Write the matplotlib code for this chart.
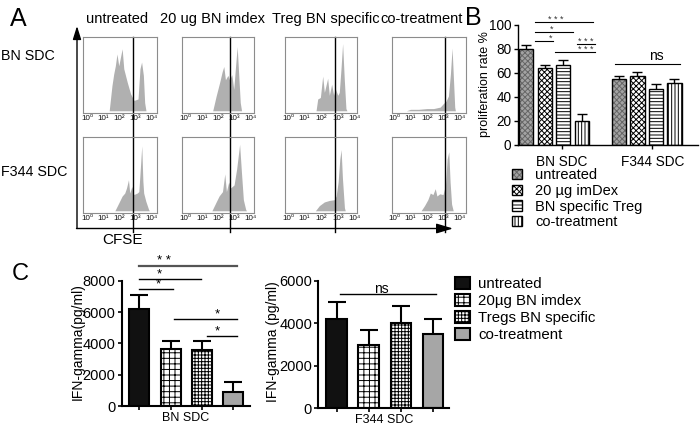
import matplotlib
matplotlib.use('Agg')
import matplotlib.pyplot as plt
from matplotlib.patches import Patch
from matplotlib.legend_handler import HandlerTuple

plt.rcParams['font.family'] = ['Liberation Sans', 'DejaVu Sans']
plt.rcParams['hatch.linewidth'] = 0.7

# ---- panel A: CFSE histograms (log10 CFSE, relative count) ----
row_names = ['BN SDC', 'F344 SDC']
col_names = ['untreated', '20 ug BN imdex', 'Treg BN specific', 'co-treatment']
decade_labels = ['10⁰', '10¹', '10²', '10³', '10⁴']
gate_log = [2.85, 2.76, 2.83, 3.09]

bn_untreated_log = [1.37, 1.54, 1.65, 1.75, 1.85, 1.96, 2.17, 2.27, 2.48, 2.69, 2.9, 3.15, 3.27, 3.37, 3.48, 3.56, 3.64]
bn_untreated_cnt = [0, 0.34, 0.5, 0.61, 0.77, 0.61, 0.84, 0.57, 0.39, 0.23, 0.14, 0.16, 0.57, 0.66, 0.48, 0.11, 0]
bn_imdex_log = [1.67, 1.88, 2.09, 2.25, 2.35, 2.45, 2.6, 2.7, 2.84, 2.96, 3.07, 3.17, 3.27, 3.36, 3.44]
bn_imdex_cnt = [0, 0.2, 0.38, 0.53, 0.6, 0.42, 0.48, 0.42, 0.49, 0.29, 0.6, 0.87, 0.47, 0.11, 0]
bn_treg_log = [1.69, 1.79, 1.95, 2.09, 2.19, 2.39, 2.49, 2.63, 2.75, 2.85, 3.0, 3.09, 3.19, 3.29, 3.39, 3.49, 3.55]
bn_treg_cnt = [0, 0.16, 0.18, 0.47, 0.25, 0.44, 0.21, 0.36, 0.21, 0.30, 0.21, 0.25, 0.56, 0.91, 0.43, 0.03, 0]
bn_cotreat_log = [0.75, 1.0, 1.5, 2.0, 2.4, 2.8, 3.0, 3.15, 3.3, 3.42, 3.52, 3.6, 3.68, 3.72]
bn_cotreat_cnt = [0, 0.02, 0.02, 0.03, 0.03, 0.05, 0.1, 0.13, 0.2, 0.5, 0.85, 0.45, 0.05, 0]

f344_untreated_log = [1.72, 1.97, 2.17, 2.33, 2.44, 2.56, 2.64, 2.77, 2.89, 3.1, 3.2, 3.3, 3.38, 3.45, 3.5, 3.63, 3.8, 3.85]
f344_untreated_cnt = [0, 0.11, 0.2, 0.24, 0.31, 0.42, 0.24, 0.33, 0.22, 0.24, 0.26, 0.6, 0.88, 0.4, 0.24, 0.13, 0.02, 0]
f344_imdex_log = [1.62, 1.86, 2.06, 2.27, 2.41, 2.51, 2.65, 2.77, 2.98, 3.14, 3.32, 3.43, 3.55, 3.69, 3.74]
f344_imdex_cnt = [0, 0.11, 0.2, 0.26, 0.5, 0.26, 0.39, 0.31, 0.35, 0.57, 0.9, 0.53, 0.15, 0.02, 0]
f344_treg_log = [1.65, 1.89, 2.19, 2.49, 2.79, 2.9, 3.02, 3.12, 3.2, 3.28, 3.4, 3.45]
f344_treg_cnt = [0, 0.07, 0.12, 0.14, 0.15, 0.2, 0.39, 0.7, 0.83, 0.44, 0.04, 0]
f344_cotreat_log = [1.64, 1.85, 2.05, 2.2, 2.36, 2.5, 2.6, 2.77, 2.97, 3.12, 3.22, 3.32, 3.4, 3.49, 3.59]
f344_cotreat_cnt = [0, 0.07, 0.15, 0.24, 0.22, 0.3, 0.2, 0.23, 0.22, 0.35, 0.7, 0.8, 0.39, 0.09, 0]

# ---- panel B: proliferation rate % ----
groups_b = ['BN SDC', 'F344 SDC']
labels_b = ['untreated', '20 µg imDex', 'BN specific Treg', 'co-treatment']
prolif_bn = [80, 64, 67, 20]
prolif_bn_err = [3, 2.5, 4, 6]
prolif_f344 = [55, 57.5, 47, 52]
prolif_f344_err = [2.5, 3.5, 4, 3]
# (from bar, to bar, height, label, label x)
sig_b = [(0.46, 3.6, 102.7, '* * *', 1.6),
         (0.46, 2.53, 94.4, '*', 1.36),
         (0.46, 1.45, 86.7, '*', 1.31),
         (2.71, 3.7, 83.9, '* * *', 3.2),
         (1.54, 3.7, 77.2, '* * *', 3.2),
         (4.78, 8.3, 67.5, 'ns', 7.04)]

# ---- panel C: IFN-gamma ----
labels_c = ['untreated', '20µg BN imdex', 'Tregs BN specific', 'co-treatment']
ifn_bn = [6200, 3650, 3550, 920]
ifn_bn_err = [900, 470, 570, 600]
ifn_f344 = [4200, 3000, 4000, 3500]
ifn_f344_err = [800, 700, 800, 700]
sig_c_bn = [(0, 3.11, 8940, '* *', 0.8),
            (0, 1.99, 8130, '*', 0.64),
            (0, 1.09, 7450, '*', 0.61),
            (1.11, 3.11, 5575, '*', 2.49),
            (2.15, 3.11, 4470, '*', 2.49)]
sig_c_f344 = [(0.1, 3.09, 5360, 'ns', 1.4)]

W, H = 700, 425
fig = plt.figure(figsize=(7, 4.25), dpi=100)


def px_axes(x0, y0, x1, y1, **kw):
    return fig.add_axes([x0 / W, 1 - y1 / H, (x1 - x0) / W, (y1 - y0) / H], **kw)


# overlay for frame arrows and free text
ax0 = px_axes(0, 0, W, H)
ax0.set_xlim(0, W)
ax0.set_ylim(H, 0)
ax0.axis('off')
ax0.annotate('', xy=(77, 26), xytext=(77, 228.5),
             arrowprops=dict(arrowstyle='-|>,head_length=0.8,head_width=0.25', color='k',
                             lw=1, shrinkA=0, shrinkB=0))
ax0.annotate('', xy=(453, 228.5), xytext=(76.5, 228.5),
             arrowprops=dict(arrowstyle='-|>,head_length=1.0,head_width=0.3', color='k',
                             lw=1, shrinkA=0, shrinkB=0))
ax0.text(18, 19, 'A', fontsize=18, ha='center', va='center')
ax0.text(473, 17.5, 'B', fontsize=18, ha='center', va='center')
ax0.text(20, 273.5, 'C', fontsize=17, ha='center', va='center')
for cx, name in zip([116.7, 213, 326, 421.7], col_names):
    ax0.text(cx, 18.5, name, fontsize=10.5, ha='center', va='center')
for cy, name in zip([56, 172.3], row_names):
    ax0.text(1, cy, name, fontsize=10.3, ha='left', va='center')
ax0.text(122.5, 239.5, 'CFSE', fontsize=11, ha='center', va='center')
ax0.text(485, 84, 'proliferation rate %', fontsize=9, rotation=90, ha='center', va='center')
ax0.text(78, 342, 'IFN-gamma(pg/ml)', fontsize=10, rotation=90, ha='center', va='center')
ax0.text(273.5, 342, 'IFN-gamma (pg/ml)', fontsize=10, rotation=90, ha='center', va='center')

hists = [[(bn_untreated_log, bn_untreated_cnt), (bn_imdex_log, bn_imdex_cnt),
          (bn_treg_log, bn_treg_cnt), (bn_cotreat_log, bn_cotreat_cnt)],
         [(f344_untreated_log, f344_untreated_cnt), (f344_imdex_log, f344_imdex_cnt),
          (f344_treg_log, f344_treg_cnt), (f344_cotreat_log, f344_cotreat_cnt)]]
# box left, box right, pixel of 10^0, pixels per decade
col_boxes = [(83, 157, 87, 16.2), (181.5, 253.5, 185.5, 16.3),
             (284.5, 357, 288, 16.6), (391.5, 466, 394, 16.5)]
row_boxes = [(37, 113), (137, 213)]
gate_low = [-0.32, -0.25]

for r in range(2):
    for c in range(4):
        x0, x1, l0, dec = col_boxes[c]
        y0, y1 = row_boxes[r]
        ax = px_axes(x0, y0, x1, y1)
        ax.patch.set_alpha(0)
        lx, cnt = hists[r][c]
        ax.fill_between(lx, cnt, color='#b0b0b0', lw=0)
        ax.set_xlim((x0 - l0) / dec, (x1 - l0) / dec)
        ax.set_ylim(-0.03, 1.0)
        ax.set_xticks(range(5))
        ax.set_xticklabels(decade_labels, fontsize=5.8, color='#111')
        ax.set_yticks([])
        ax.tick_params(length=0, pad=1.2)
        for s in ax.spines.values():
            s.set_color('#8c8c8c')
            s.set_linewidth(0.8)
        ax.axvline(gate_log[c], ymin=gate_low[r], ymax=1, color='k', lw=1, clip_on=False)

# ---- panel B ----
axb = px_axes(518.3, 25, 698, 145)
bar_w = 0.76
faces_b = ['#a3a3a3', 'white', 'white', 'white']
hatch_b = ['xxxxxx', 'xxxxxx', '-----', '|||||']
for g, (vals, errs) in enumerate([(prolif_bn, prolif_bn_err), (prolif_f344, prolif_f344_err)]):
    for i in range(4):
        x = g * 5 + i
        axb.errorbar(x, vals[i], yerr=errs[i], fmt='none', ecolor='k', elinewidth=1,
                     capsize=3.6, capthick=1, zorder=1)
        if i == 0:
            axb.bar(x, vals[i], bar_w, color=faces_b[i], edgecolor='#666666', hatch=hatch_b[i],
                    lw=0, zorder=2)
            axb.bar(x, vals[i], bar_w, fill=False, edgecolor='k', lw=1, zorder=3)
        else:
            axb.bar(x, vals[i], bar_w, color=faces_b[i], edgecolor='k', hatch=hatch_b[i],
                    lw=1, zorder=2)
for xa, xb, y, lab, xt in sig_b:
    axb.plot([xa, xb], [y, y], color='k', lw=0.8, clip_on=False)
    if lab == 'ns':
        axb.text(xt, y + 1, lab, fontsize=10, ha='center', va='bottom')
    else:
        axb.text(xt, y - 1.5, lab, fontsize=6.5, ha='center', va='bottom', color='#333')
axb.set_xlim(-0.44, 9.27)
axb.set_ylim(0, 100)
axb.set_yticks(range(0, 101, 20))
axb.set_xticks([1.9, 6.8])
axb.set_xticklabels(groups_b)
axb.tick_params(labelsize=9.8, length=3, width=1, pad=2)
axb.tick_params(axis='x', pad=4.5)
for s in ['top', 'right']:
    axb.spines[s].set_visible(False)
for s in ['left', 'bottom']:
    axb.spines[s].set_linewidth(1)

handles_b = [(Patch(facecolor=faces_b[0], edgecolor='#666666', hatch=hatch_b[0], lw=0),
              Patch(fill=False, edgecolor='k', lw=1))]
handles_b += [Patch(facecolor=faces_b[i], edgecolor='k', hatch=hatch_b[i], lw=1) for i in range(1, 4)]
fig.legend(handles_b, labels_b, loc='upper left', bbox_to_anchor=(511.7 / W, 1 - 168 / H),
           frameon=False, fontsize=10.5, handlelength=0.7, handleheight=0.7, handletextpad=0.9,
           labelspacing=0.12, borderpad=0, borderaxespad=0,
           handler_map={tuple: HandlerTuple(ndivide=1)})

# ---- panel C ----
faces_c = ['#111111', 'white', 'white', '#a6a6a6']
hatch_c = [None, '+++', '+++++', None]
axc1 = px_axes(121.7, 280.7, 250, 406)
axc2 = px_axes(318.3, 280.7, 449.3, 408.3)
for ax, vals, errs, sig, ymax, xl, grp in [
        (axc1, ifn_bn, ifn_bn_err, sig_c_bn, 8000, (-0.56, 3.54), 'BN SDC'),
        (axc2, ifn_f344, ifn_f344_err, sig_c_f344, 6000, (-0.57, 3.51), 'F344 SDC')]:
    for i in range(4):
        ax.errorbar(i, vals[i], yerr=errs[i], fmt='none', ecolor='k', elinewidth=1.5,
                    capsize=6.5, capthick=1.5, zorder=1)
        ax.bar(i, vals[i], 0.64, color=faces_c[i], edgecolor='k', hatch=hatch_c[i],
               lw=1.5, zorder=2)
    for xa, xb, y, lab, xt in sig:
        col, lw = ('#555555', 1.6) if lab == '* *' else ('k', 1)
        ax.plot([xa, xb], [y, y], color=col, lw=lw, clip_on=False)
        ax.text(xt, y - ymax * 0.012, lab, fontsize=10 if lab == 'ns' else 9.5,
                ha='center', va='bottom')
    ax.set_xlim(*xl)
    ax.set_ylim(0, ymax)
    ax.set_yticks(range(0, ymax + 1, 2000))
    ax.set_xticks(range(4))
    ax.set_xticklabels([])
    ax.tick_params(labelsize=10.5, length=3, width=1.2, pad=1.5)
    for s in ['top', 'right']:
        ax.spines[s].set_visible(False)
    for s in ['left', 'bottom']:
        ax.spines[s].set_linewidth(1.5)
    ax.annotate(grp, xy=(0.5, 0), xycoords='axes fraction', xytext=(0, -4),
                textcoords='offset points', ha='center', va='top', fontsize=9)

handles_c = [Patch(facecolor=faces_c[i], edgecolor='k', hatch=hatch_c[i], lw=1.5) for i in range(4)]
fig.legend(handles_c, labels_c, loc='upper left', bbox_to_anchor=(455 / W, 1 - 277 / H),
           frameon=False, fontsize=10.8, handlelength=1.0, handleheight=0.85, handletextpad=0.55,
           labelspacing=0.18, borderpad=0, borderaxespad=0)

fig.savefig('out.png', dpi=100)
